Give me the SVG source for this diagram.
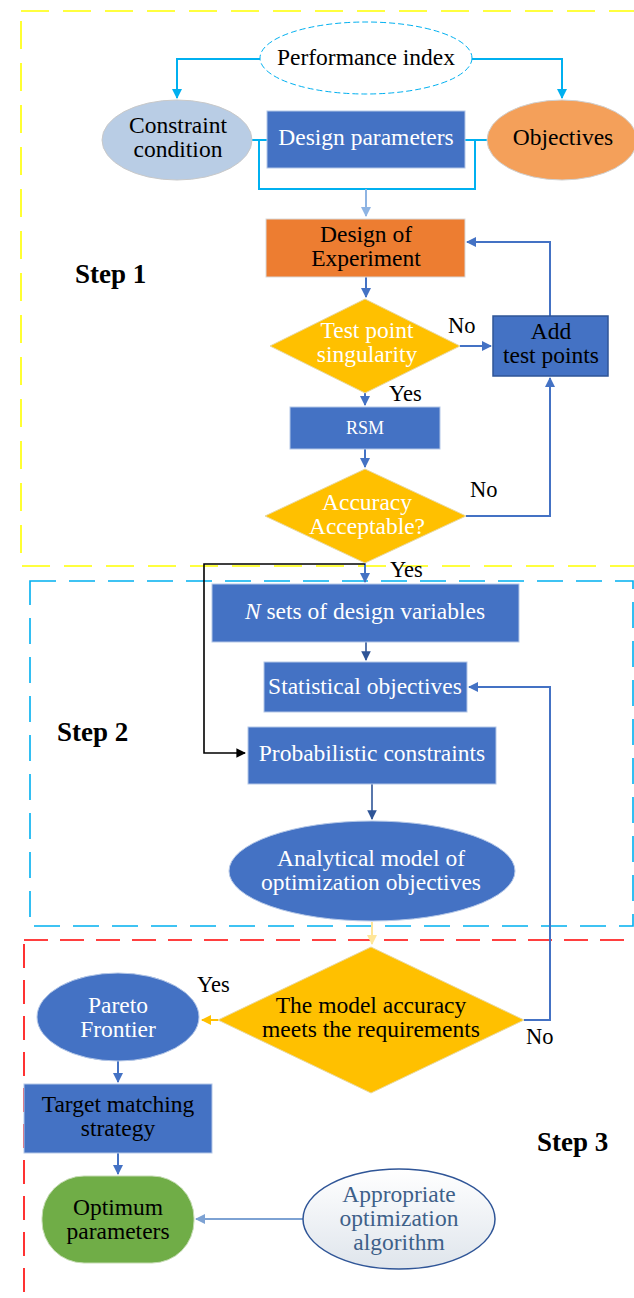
<svg xmlns="http://www.w3.org/2000/svg" width="634" height="1298" viewBox="0 0 634 1298">
<style>
text{font-family:"Liberation Serif","Times New Roman",serif;font-size:23.5px;text-anchor:middle}
.w{fill:#ffffff}
.k{fill:#000000}
.lbl{font-size:22.5px;text-anchor:start}
.step{font-weight:bold;font-size:27px;text-anchor:start}
.box{fill:#4472c4;stroke:#b4c7e7;stroke-width:1}
.dia{fill:#ffc000;stroke:#e8d8a0;stroke-width:1}
.cy{fill:none;stroke:#00b0f0;stroke-width:2}
.bl{fill:none;stroke:#4472c4;stroke-width:2}
.db{fill:none;stroke:#2f5597;stroke-width:1.6}
</style>
<defs>
<marker id="aC" viewBox="0 0 10 10" refX="9" refY="5" markerWidth="5" markerHeight="5" orient="auto"><path d="M0,0 L10,5 L0,10 z" fill="#00b0f0"/></marker>
<marker id="aB" viewBox="0 0 10 10" refX="9" refY="5" markerWidth="5" markerHeight="5" orient="auto"><path d="M0,0 L10,5 L0,10 z" fill="#4472c4"/></marker>
<marker id="aD" viewBox="0 0 10 10" refX="9" refY="5" markerWidth="6" markerHeight="6" orient="auto"><path d="M0,0 L10,5 L0,10 z" fill="#2f5597"/></marker>
<marker id="aL" viewBox="0 0 10 10" refX="9" refY="5" markerWidth="5" markerHeight="5" orient="auto"><path d="M0,0 L10,5 L0,10 z" fill="#8eb4e3"/></marker>
<marker id="aK" viewBox="0 0 10 10" refX="9" refY="5" markerWidth="6" markerHeight="6" orient="auto"><path d="M0,0 L10,5 L0,10 z" fill="#000000"/></marker>
<marker id="aY" viewBox="0 0 10 10" refX="9" refY="5" markerWidth="5" markerHeight="5" orient="auto"><path d="M0,0 L10,5 L0,10 z" fill="#ffc000"/></marker>
<marker id="aP" viewBox="0 0 10 10" refX="9" refY="5" markerWidth="5" markerHeight="5" orient="auto"><path d="M0,0 L10,5 L0,10 z" fill="#ffe699"/></marker>
<marker id="aS" viewBox="0 0 10 10" refX="9" refY="5" markerWidth="5" markerHeight="5" orient="auto"><path d="M0,0 L10,5 L0,10 z" fill="#7da2d3"/></marker>
<linearGradient id="gAlg" x1="0" y1="0" x2="0" y2="1"><stop offset="0" stop-color="#ffffff"/><stop offset="1" stop-color="#dfe5ec"/></linearGradient>
</defs>

<g id="regions">
<rect x="21" y="11" width="640" height="555" fill="none" stroke="#ffff00" stroke-width="1.6" stroke-dasharray="28 14"/>
<rect x="30" y="581" width="603" height="345" fill="none" stroke="#00b0f0" stroke-width="1.6" stroke-dasharray="26 13"/>
<rect x="24" y="940" width="640" height="400" fill="none" stroke="#ff0000" stroke-width="1.6" stroke-dasharray="24 12"/>
<text class="step" x="75" y="283">Step 1</text>
<text class="step" x="57" y="741">Step 2</text>
<text class="step" x="537" y="1151">Step 3</text>
</g>

<g id="connectors">
<path class="cy" d="M260,59 H177 V98" marker-end="url(#aC)"/>
<path class="cy" d="M472,59 H562 V98" marker-end="url(#aC)"/>
<path class="cy" d="M252,140 H267 M465,140 H488 M259,140 V189 H475 V140"/>
<path d="M366,189 V216" fill="none" stroke="#8eb4e3" stroke-width="2" marker-end="url(#aL)"/>
<path class="bl" d="M366,277 V297" marker-end="url(#aB)"/>
<path class="bl" d="M460,346 H491" marker-end="url(#aB)"/>
<path class="bl" d="M550,316 V242 H467" marker-end="url(#aB)"/>
<path class="bl" d="M365,393 V405" marker-end="url(#aB)"/>
<path class="bl" d="M365,449 V467" marker-end="url(#aB)"/>
<path class="bl" d="M466,516 H550 V378" marker-end="url(#aB)"/>
<path class="bl" d="M365,563 V582" marker-end="url(#aB)"/>
<path d="M365,564 H204 V753 H245" fill="none" stroke="#000000" stroke-width="1.6" marker-end="url(#aK)"/>
<path class="db" d="M366,642 V660" marker-end="url(#aD)"/>
<path class="bl" d="M524,1020 H550 V687 H469" marker-end="url(#aB)"/>
<path class="db" d="M372,784 V819" marker-end="url(#aD)"/>
<path d="M372,922 V944" fill="none" stroke="#ffe699" stroke-width="2" marker-end="url(#aP)"/>
<path d="M218,1020 H202" fill="none" stroke="#ffc000" stroke-width="2" marker-end="url(#aY)"/>
<path class="bl" d="M118,1061 V1082" marker-end="url(#aB)"/>
<path class="bl" d="M118,1153 V1174" marker-end="url(#aB)"/>
<path d="M303,1219 H196" fill="none" stroke="#7da2d3" stroke-width="2" marker-end="url(#aS)"/>
<text class="lbl k" x="448" y="333">No</text>
<text class="lbl k" x="389" y="401">Yes</text>
<text class="lbl k" x="470" y="497">No</text>
<text class="lbl k" x="390" y="577">Yes</text>
<text class="lbl k" x="197" y="992">Yes</text>
<text class="lbl k" x="526" y="1044">No</text>
</g>

<g id="performance-index">
<ellipse cx="366" cy="58" rx="106" ry="36" fill="#ffffff" stroke="#00b0f0" stroke-width="1" stroke-dasharray="6 3"/>
<text class="k" x="366" y="65">Performance index</text>
</g>
<g id="constraint-condition">
<ellipse cx="177" cy="140" rx="75" ry="40" fill="#b9cde5" stroke="#c9c9c9" stroke-width="1"/>
<text class="k" x="178" y="133">Constraint</text>
<text class="k" x="178" y="157">condition</text>
</g>
<g id="design-parameters">
<rect class="box" x="267" y="111" width="198" height="57"/>
<text class="w" x="366" y="145">Design parameters</text>
</g>
<g id="objectives">
<ellipse cx="562" cy="140" rx="75" ry="40" fill="#f4a05a" stroke="#d0d0d0" stroke-width="1"/>
<text class="k" x="563" y="145">Objectives</text>
</g>
<g id="design-of-experiment">
<rect x="266" y="219" width="199" height="58" fill="#ed7d31" stroke="#d9d9d9" stroke-width="1"/>
<text class="k" x="366" y="241.5">Design of</text>
<text class="k" x="366" y="265.5">Experiment</text>
</g>
<g id="test-point-singularity">
<polygon class="dia" points="365,299 460,346 365,393 270,346"/>
<text class="w" x="367" y="338">Test point</text>
<text class="w" x="367" y="362">singularity</text>
</g>
<g id="add-test-points">
<rect x="493" y="316" width="115" height="60" fill="#4472c4" stroke="#2f5597" stroke-width="1.5"/>
<text class="k" x="551" y="339">Add</text>
<text class="k" x="551" y="363">test points</text>
</g>
<g id="rsm">
<rect class="box" x="290" y="407" width="150" height="42"/>
<text class="w" x="365" y="434" style="font-size:18px">RSM</text>
</g>
<g id="accuracy-acceptable">
<polygon class="dia" points="365,469 466,516 365,563 265,516"/>
<text class="w" x="367" y="509.5">Accuracy</text>
<text class="w" x="367" y="533.5">Acceptable?</text>
</g>
<g id="n-sets">
<rect class="box" x="212" y="584" width="307" height="58"/>
<text class="w" x="365" y="619"><tspan font-style="italic">N</tspan> sets of design variables</text>
</g>
<g id="statistical-objectives">
<rect class="box" x="264" y="662" width="203" height="50"/>
<text class="w" x="365" y="694">Statistical objectives</text>
</g>
<g id="probabilistic-constraints">
<rect class="box" x="248" y="727" width="248" height="57"/>
<text class="w" x="372" y="761">Probabilistic constraints</text>
</g>
<g id="analytical-model">
<ellipse cx="372" cy="871" rx="143" ry="50" fill="#4472c4" stroke="#b4c7e7" stroke-width="1"/>
<text class="w" x="371" y="865.5">Analytical model of</text>
<text class="w" x="371" y="889.5">optimization objectives</text>
</g>
<g id="model-accuracy">
<polygon class="dia" points="371,947 524,1020 371,1093 218,1020"/>
<text class="k" x="371" y="1013">The model accuracy</text>
<text class="k" x="371" y="1037">meets the requirements</text>
</g>
<g id="pareto-frontier">
<ellipse cx="118" cy="1017" rx="81" ry="44" fill="#4472c4" stroke="#b4c7e7" stroke-width="1"/>
<text class="w" x="118" y="1013">Pareto</text>
<text class="w" x="118" y="1037">Frontier</text>
</g>
<g id="target-matching">
<rect class="box" x="24" y="1084" width="188" height="69"/>
<text class="k" x="118" y="1112">Target matching</text>
<text class="k" x="118" y="1136">strategy</text>
</g>
<g id="optimum-parameters">
<rect x="42" y="1176" width="152" height="87" rx="42" ry="42" fill="#70ad47" stroke="#c5dbb3" stroke-width="1"/>
<text class="k" x="118" y="1214.5">Optimum</text>
<text class="k" x="118" y="1238.5">parameters</text>
</g>
<g id="appropriate-algorithm">
<ellipse cx="399" cy="1219" rx="96" ry="50" fill="url(#gAlg)" stroke="#2f5597" stroke-width="1.5"/>
<text x="399" y="1201.5" fill="#3e6089">Appropriate</text>
<text x="399" y="1225.5" fill="#3e6089">optimization</text>
<text x="399" y="1249.5" fill="#3e6089">algorithm</text>
</g>
</svg>
